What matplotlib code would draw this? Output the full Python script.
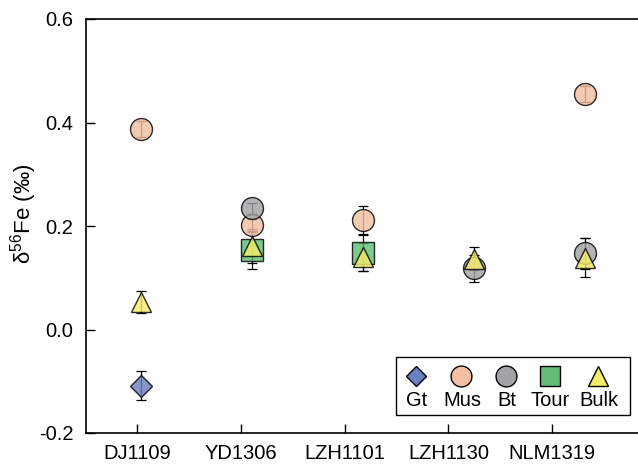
import numpy as np
import matplotlib
matplotlib.use('Agg')
import matplotlib.pyplot as plt
from matplotlib.patches import Rectangle
from matplotlib.lines import Line2D

plt.rcParams['font.family'] = ['Liberation Sans', 'DejaVu Sans']
plt.rcParams['mathtext.fontset'] = 'custom'
plt.rcParams['mathtext.rm'] = 'Liberation Sans'
plt.rcParams['mathtext.it'] = 'Liberation Sans:italic'

nan = np.nan
samples = ['DJ1109', 'YD1306', 'LZH1101', 'LZH1130', 'NLM1319']

gt = [-0.109, nan, nan, nan, nan]
gt_err = [0.028, nan, nan, nan, nan]
mus = [0.387, 0.202, 0.211, nan, 0.455]
mus_err = [0.015, 0.011, 0.027, nan, 0.015]
bt = [nan, 0.234, nan, 0.118, 0.147]
bt_err = [nan, 0.011, nan, 0.026, 0.030]
tour = [nan, 0.153, 0.148, nan, nan]
tour_err = [nan, 0.036, 0.035, nan, nan]
bulk = [0.053, 0.161, 0.140, 0.137, 0.139]
bulk_err = [0.022, 0.033, 0.027, 0.022, 0.037]

series = [
    ('Gt', gt, gt_err, 'D', '#6a7fc0', 11.2),
    ('Mus', mus, mus_err, 'o', '#f2bfa3', 15.8),
    ('Bt', bt, bt_err, 'o', '#a3a3a6', 15.8),
    ('Tour', tour, tour_err, 's', '#63bd74', 15.8),
    ('Bulk', bulk, bulk_err, '^', '#f3ec6a', 15.0),
]

fig = plt.figure(figsize=(6.38, 4.70), dpi=100)
ax = fig.add_axes([86 / 638, 37 / 470, (640.5 - 86) / 638, (433 - 19) / 470])

x = np.arange(1, len(samples) + 1)
for name, vals, errs, mk, col, ms in series:
    ax.errorbar(x, vals, yerr=errs, fmt='none', ecolor='black', elinewidth=0.9,
                capsize=3.3, capthick=0.9, zorder=2)
for name, vals, errs, mk, col, ms in series:
    ax.plot(x, vals, linestyle='none', marker=mk, markersize=ms,
            markerfacecolor=col, markeredgecolor='black', markeredgewidth=1.0,
            alpha=0.82, zorder=3)

ax.set_xlim(0.5, 5.5)
ax.set_ylim(-0.2, 0.6)
ax.set_yticks([-0.2, 0.0, 0.2, 0.4, 0.6])
ax.set_yticklabels(['-0.2', '0.0', '0.2', '0.4', '0.6'])
tick_pos = 0.964 + 0.9348 * np.arange(len(samples))
ax.set_xticks(tick_pos)
ax.set_xticklabels(samples)

ax.tick_params(axis='both', direction='in', length=6.5, width=1.0,
               labelsize=14.5, colors='black')
ax.tick_params(axis='y', pad=9)
ax.tick_params(axis='x', pad=8)
ax.spines['right'].set_visible(False)
for s in ['left', 'bottom', 'top']:
    ax.spines[s].set_linewidth(1.2)

ax.set_ylabel(r'δ$^{56}$Fe (‰)', fontsize=16)
ax.yaxis.set_label_coords(-0.085, 0.529)

# legend box with labels under the markers
lx0, ly0 = 395.7, 356.7
lw, lh = 630 - 395.7, 415 - 356.7
def fx(px):
    return px / 638
def fy(py):
    return 1 - py / 470
fig.patches.append(Rectangle((fx(lx0), fy(ly0 + lh)), lw / 638, lh / 470,
                             transform=fig.transFigure, facecolor='white',
                             edgecolor='black', linewidth=1.0, zorder=5))
leg_x = [416, 461, 505.5, 549.5, 597.5]
for (name, vals, errs, mk, col, ms), px in zip(series, leg_x):
    fig.add_artist(Line2D([fx(px)], [fy(376)], marker=mk,
                   markersize=ms * 0.95, markerfacecolor=col,
                   markeredgecolor='black', markeredgewidth=1.0,
                   linestyle='none', transform=fig.transFigure, zorder=6))
    fig.text(fx(px + 1), fy(400), name, ha='center', va='center',
             fontsize=14.5, zorder=6)

fig.savefig('out.png', dpi=100)
